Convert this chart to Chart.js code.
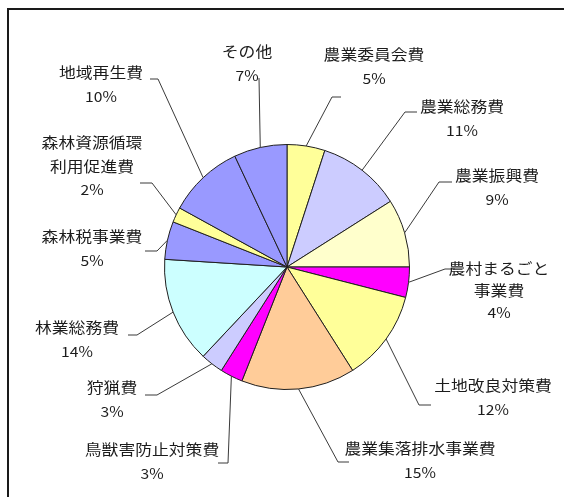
<!DOCTYPE html>
<html>
<head>
<meta charset="utf-8">
<script src="https://cdn.jsdelivr.net/npm/chart.js@4"></script>
<style>
  html, body { margin: 0; padding: 0; background: #fff; }
  #wrap { width: 564px; height: 497px; }
</style>
</head>
<body>
<div id="wrap"><canvas id="pie" width="564" height="497"></canvas></div>
<script>
// 予算の内訳（%）
const categories = [
    '農業委員会費', '農業総務費', '農業振興費', '農村まるごと\n事業費',
    '土地改良対策費', '農業集落排水事業費', '鳥獣害防止対策費', '狩猟費',
    '林業総務費', '森林税事業費', '森林資源循環\n利用促進費', '地域再生費', 'その他'
];
const shares = [5, 11, 9, 4, 12, 15, 3, 3, 14, 5, 2, 10, 7];

const sliceColors = [
    '#FFFF99', '#CCCCFF', '#FFFFCC', '#FF00FF', '#FFFF99', '#FFCC99', '#FF00FF',
    '#CCCCFF', '#CCFFFF', '#9999FF', '#FFFF99', '#9999FF', '#9999FF'
];

// label block: centre x, first line y, leader elbow and end
const labelLayout = [
    { x: 374, y: 54,  elbow: [332, 97],  end: [341, 97] },
    { x: 462, y: 106, elbow: [405, 112], end: [417, 112] },
    { x: 497, y: 175, elbow: [439, 182], end: [452, 182] },
    { x: 499, y: 268, elbow: [445, 269], end: [455, 269], gap: 22.5 },
    { x: 493, y: 385, elbow: [419, 405], end: [431, 405] },
    { x: 420, y: 448, elbow: [338, 462], end: [349, 462] },
    { x: 152, y: 449, elbow: [228, 463], end: [218, 463] },
    { x: 112, y: 387, elbow: [157, 395], end: [145, 395] },
    { x: 77,  y: 327, elbow: [137, 335], end: [128, 335] },
    { x: 92,  y: 236, elbow: [157, 251], end: [145, 251] },
    { x: 92,  y: 142, elbow: [152, 183], end: [140, 183], gap: 24 },
    { x: 101, y: 72,  elbow: [158, 79],  end: [150, 79] },
    { x: 247, y: 51,  elbow: [259, 78],  end: [259, 78] }
];

const lineGap = 25;
const stretchX = 1.12;

const frame = {
    id: 'frame',
    beforeDraw(chart) {
        const ctx = chart.ctx;
        ctx.save();
        ctx.fillStyle = '#fff';
        ctx.fillRect(0, 0, chart.width, chart.height);
        ctx.strokeStyle = '#1a1a1a';
        ctx.lineWidth = 2;
        ctx.beginPath();
        ctx.moveTo(8, chart.height);
        ctx.lineTo(8, 9);
        ctx.lineTo(chart.width, 9);
        ctx.stroke();
        ctx.restore();
    }
};

const outsideLabels = {
    id: 'outsideLabels',
    afterDatasetsDraw(chart) {
        const ctx = chart.ctx;
        const arcs = chart.getDatasetMeta(0).data;
        ctx.save();
        arcs.forEach((arc, i) => {
            const lay = labelLayout[i];
            const p = arc.getProps(['x', 'y', 'startAngle', 'endAngle', 'outerRadius'], true);
            const mid = (p.startAngle + p.endAngle) / 2;
            const sx = p.x + Math.cos(mid) * p.outerRadius;
            const sy = p.y + Math.sin(mid) * p.outerRadius;

            ctx.strokeStyle = '#3a3a3a';
            ctx.lineWidth = 1;
            ctx.beginPath();
            ctx.moveTo(sx, sy);
            ctx.lineTo(lay.elbow[0], lay.elbow[1]);
            ctx.lineTo(lay.end[0], lay.end[1]);
            ctx.stroke();

            const lines = categories[i].split('\n').concat([shares[i] + '%']);
            const gap = lay.gap || lineGap;
            ctx.fillStyle = '#1c1c1c';
            ctx.textAlign = 'center';
            ctx.textBaseline = 'middle';
            lines.forEach((t, k) => {
                ctx.font = (k === lines.length - 1 ? '14px' : '15px') + ' "Noto Sans CJK JP", sans-serif';
                ctx.save();
                ctx.translate(lay.x, lay.y + k * gap);
                ctx.scale(stretchX, 1);
                ctx.fillText(t, 0, 0);
                ctx.restore();
            });
        });
        ctx.restore();
    }
};

new Chart(document.getElementById('pie'), {
    type: 'pie',
    data: {
        labels: categories,
        datasets: [{
            data: shares,
            backgroundColor: sliceColors,
            borderColor: '#202020',
            borderWidth: 1
        }]
    },
    options: {
        responsive: false,
        animation: false,
        layout: { padding: { left: 164, right: 154, top: 144, bottom: 107 } },
        plugins: {
            legend: { display: false },
            tooltip: { enabled: false }
        }
    },
    plugins: [frame, outsideLabels]
});
</script>
</body>
</html>
